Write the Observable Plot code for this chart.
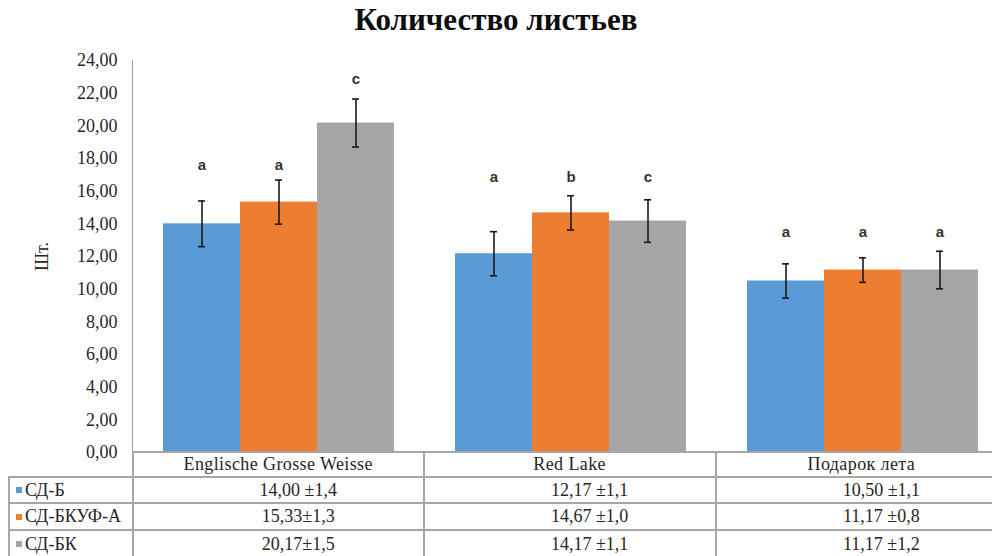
<!DOCTYPE html>
<html>
<head>
<meta charset="utf-8">
<script src="https://cdn.jsdelivr.net/npm/d3@7"></script>
<script src="https://cdn.jsdelivr.net/npm/@observablehq/plot@0.6"></script>
<style>
  html, body { margin: 0; padding: 0; background: #fff; overflow: hidden; }
  #wrap { position: relative; width: 1008px; height: 556px; overflow: hidden; background: #fff; }
  #title { width: 992px; height: 40px; line-height: 40px; text-align: center;
           font-family: "Liberation Serif", "Times New Roman", Tinos, "DejaVu Serif", serif; font-weight: bold; font-size: 31px; color: #0d0d0d; }
  #tbl { position: absolute; top: 451px; left: 8px; border-collapse: collapse; table-layout: fixed;
         font-family: "Liberation Serif", "Times New Roman", Tinos, "DejaVu Serif", serif; font-size: 18px; color: #262626; }
  #tbl td { border: 2px solid #a6a6a6; padding: 0; white-space: nowrap; overflow: hidden; }
  #tbl td.hdr { text-align: center; letter-spacing: 0.4px; }
  #tbl td.val { text-align: center; padding-left: 40px; }
  #tbl td.leg { text-align: left; padding-left: 6px; }
  #tbl td.blank { border-top: hidden; border-left: hidden; }
  .sw { display: inline-block; width: 6px; height: 6px; margin-right: 3px; vertical-align: middle; position: relative; top: -1px; }
</style>
</head>
<body>
<div id="wrap">
  <div id="title"></div>
  <div id="chart"></div>
  <table id="tbl"></table>
</div>
<script>
const titleText = "Количество листьев";
const yLabel = "Шт.";
const groups = ["Englische Grosse Weisse", "Red Lake", "Подарок лета"];
const series = ["СД-Б", "СД-БКУФ-А", "СД-БК"];
const colors = ["#5B9BD5", "#ED7D31", "#A5A5A5"];

// means per series (one value per group)
const meanB    = [14.00, 12.17, 10.50];
const meanBKUF = [15.33, 14.67, 11.17];
const meanBK   = [20.17, 14.17, 11.17];

// error bar half-lengths as drawn
const errB    = [1.40, 1.35, 1.05];
const errBKUF = [1.35, 1.05, 0.75];
const errBK   = [1.47, 1.30, 1.15];

// table texts
const tableB    = ["14,00 ±1,4", "12,17 ±1,1", "10,50 ±1,1"];
const tableBKUF = ["15,33±1,3", "14,67 ±1,0", "11,17 ±0,8"];
const tableBK   = ["20,17±1,5", "14,17 ±1,1", "11,17 ±1,2"];

// significance letters and their heights
const lettersB    = ["a", "a", "a"];
const lettersBKUF = ["a", "b", "a"];
const lettersBK   = ["c", "c", "a"];
const letterYB    = [17.6, 16.85, 13.5];
const letterYBKUF = [17.6, 16.85, 13.5];
const letterYBK   = [22.85, 16.85, 13.5];

const yTicks = [0, 2, 4, 6, 8, 10, 12, 14, 16, 18, 20, 22, 24];

const means = [meanB, meanBKUF, meanBK];
const errs = [errB, errBKUF, errBK];
const tables = [tableB, tableBKUF, tableBK];
const letters = [lettersB, lettersBKUF, lettersBK];
const letterYs = [letterYB, letterYBKUF, letterYBK];

const rows = [];
groups.forEach((g, i) => series.forEach((s, j) => rows.push({
  group: g, series: s, mean: means[j][i], err: errs[j][i],
  letter: letters[j][i], letterY: letterYs[j][i]
})));

document.getElementById("title").textContent = titleText;

const fmt = d => d.toFixed(2).replace(".", ",");
const serifStack = "'Liberation Serif', 'Times New Roman', Tinos, 'DejaVu Serif', serif";

const chart = Plot.plot({
  width: 1008,
  height: 516,
  marginTop: 20,
  marginBottom: 104,
  marginLeft: 132,
  marginRight: 0,
  style: { fontFamily: serifStack, fontSize: "18px", color: "#262626", background: "#fff", overflow: "visible", maxWidth: "none" },
  fx: { domain: groups, padding: 0, axis: null },
  x: { domain: series, paddingInner: 0, paddingOuter: 0.375, axis: null },
  y: { domain: [0, 24], ticks: yTicks, tickFormat: fmt, tickSize: 0, tickPadding: 15,
       label: yLabel, labelAnchor: "center", labelOffset: 97, labelArrow: "none" },
  color: { domain: series, range: colors },
  marks: [
    Plot.barY(rows, { fx: "group", x: "series", y: "mean", fill: "series" }),
    Plot.ruleX(rows, { fx: "group", x: "series", y1: d => d.mean - d.err, y2: d => d.mean + d.err, stroke: "#1a1a1a", strokeWidth: 1.6 }),
    Plot.tickY(rows, { fx: "group", x: "series", y: d => d.mean - d.err, stroke: "#1a1a1a", strokeWidth: 1.6, insetLeft: 35, insetRight: 35 }),
    Plot.tickY(rows, { fx: "group", x: "series", y: d => d.mean + d.err, stroke: "#1a1a1a", strokeWidth: 1.6, insetLeft: 35, insetRight: 35 }),
    Plot.text(rows, { fx: "group", x: "series", y: "letterY", text: "letter", fontFamily: "'Liberation Sans', sans-serif", fontWeight: "bold", fontSize: 15, fill: "#333" }),
    Plot.frame({ anchor: "left", stroke: "#a6a6a6", strokeWidth: 1.2, facet: "super" })
  ]
});
document.getElementById("chart").appendChild(chart);

// data table below the plot
const tbl = document.getElementById("tbl");
const cg = document.createElement("colgroup");
[124, 291, 293, 292].forEach(w => { const c = document.createElement("col"); c.style.width = w + "px"; cg.appendChild(c); });
tbl.appendChild(cg);
const hr = document.createElement("tr");
hr.style.height = "25px";
const blank = document.createElement("td"); blank.className = "blank"; hr.appendChild(blank);
groups.forEach(g => { const td = document.createElement("td"); td.className = "hdr"; td.textContent = g; hr.appendChild(td); });
tbl.appendChild(hr);
const rh = [26, 27, 28];
series.forEach((s, j) => {
  const tr = document.createElement("tr");
  tr.style.height = rh[j] + "px";
  const lc = document.createElement("td"); lc.className = "leg";
  const sw = document.createElement("span"); sw.className = "sw"; sw.style.background = colors[j];
  lc.appendChild(sw); lc.appendChild(document.createTextNode(s));
  tr.appendChild(lc);
  tables[j].forEach(t => { const td = document.createElement("td"); td.className = "val"; td.textContent = t; tr.appendChild(td); });
  tbl.appendChild(tr);
});
</script>
</body>
</html>
